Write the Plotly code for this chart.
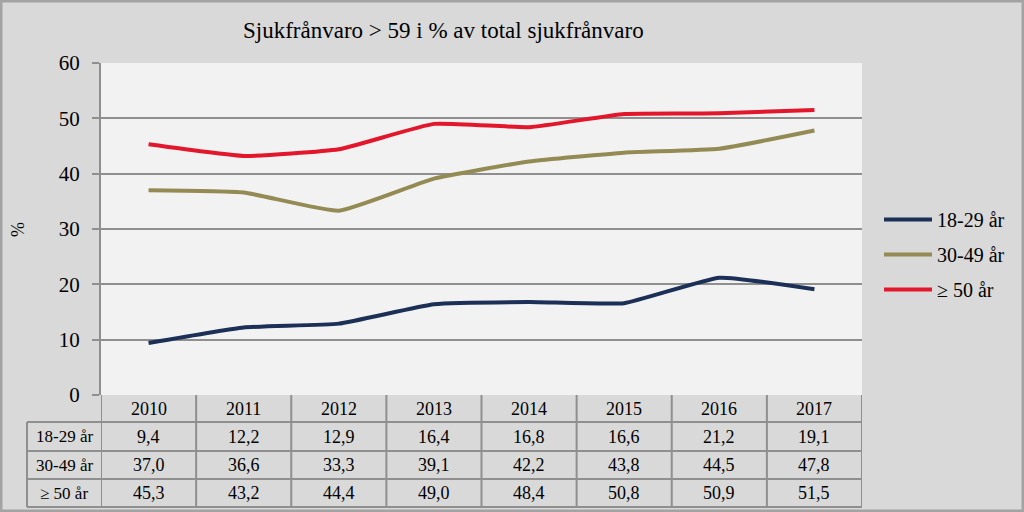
import plotly.graph_objects as go

years = ["2010", "2011", "2012", "2013", "2014", "2015", "2016", "2017"]
series_names = ["18-29 år", "30-49 år", "≥ 50 år"]
s_18_29 = [9.4, 12.2, 12.9, 16.4, 16.8, 16.6, 21.2, 19.1]
s_30_49 = [37.0, 36.6, 33.3, 39.1, 42.2, 43.8, 44.5, 47.8]
s_50 = [45.3, 43.2, 44.4, 49.0, 48.4, 50.8, 50.9, 51.5]
colors = ["#1b2f57", "#948a54", "#e3172b"]
y_ticks = [0, 10, 20, 30, 40, 50, 60]

all_series = [s_18_29, s_30_49, s_50]
FONT = "Liberation Serif, Times New Roman, serif"

W, H = 1024, 512
L, R, T, B = 101, 862, 63, 395
pw, ph = R - L, B - T


def py(p):
    return (B - p) / ph


def px(p):
    return (p - L) / pw


fig = go.Figure()
xs = list(range(len(years)))
for i, (name, vals) in enumerate(zip(series_names, all_series)):
    fig.add_trace(go.Scatter(
        x=xs, y=vals, mode="lines", name=name, legendgroup=name,
        line=dict(color=colors[i], width=4, shape="spline", smoothing=0.4),
        hoverinfo="skip",
    ))

gray = "#8f8f8f"
shapes = []
row_edges = [395, 422, 451, 479, 507]
for e in row_edges[1:]:
    shapes.append(dict(type="line", xref="paper", yref="paper",
                       x0=px(27), x1=1, y0=py(e), y1=py(e),
                       line=dict(color=gray, width=2)))
shapes.append(dict(type="line", xref="paper", yref="paper",
                   x0=px(27), x1=px(27), y0=py(422), y1=py(507),
                   line=dict(color=gray, width=2)))
for i in range(len(years) + 1):
    shapes.append(dict(type="line", xref="x", yref="paper",
                       x0=i - 0.5, x1=i - 0.5, y0=0, y1=py(507),
                       line=dict(color=gray, width=2)))
shapes.append(dict(type="rect", xref="paper", yref="paper",
                   x0=px(1), x1=px(1023), y0=py(1), y1=py(511),
                   line=dict(color="#a3a3a3", width=3)))

ann = []
ann.append(dict(text="Sjukfrånvaro > 59 i % av total sjukfrånvaro",
                xref="paper", yref="paper", x=px(443), y=py(31),
                xanchor="center", yanchor="middle",
                showarrow=False, font=dict(family=FONT, size=23, color="#000")))
ann.append(dict(text="%", xref="paper", yref="paper", x=px(18), y=py(230),
                xanchor="center", yanchor="middle",
                showarrow=False, textangle=-90,
                font=dict(family=FONT, size=18, color="#000")))
for i, yv in enumerate(years):
    ann.append(dict(text=yv, xref="x", yref="paper", x=i, y=py(408.5),
                    xanchor="center", yanchor="middle",
                    showarrow=False, font=dict(family=FONT, size=18, color="#000")))
row_centers = [436.5, 465, 493]
for r, (name, vals) in enumerate(zip(series_names, all_series)):
    ann.append(dict(text=name, xref="paper", yref="paper", x=px(64), y=py(row_centers[r]),
                    xanchor="center", yanchor="middle",
                    showarrow=False, font=dict(family=FONT, size=17, color="#000")))
    for i, v in enumerate(vals):
        ann.append(dict(text=f"{v:.1f}".replace(".", ","), xref="x", yref="paper",
                        x=i, y=py(row_centers[r]), showarrow=False,
                        xanchor="center", yanchor="middle",
                        font=dict(family=FONT, size=18, color="#000")))

fig.update_layout(
    width=W, height=H,
    margin=dict(l=L, r=W - R, t=T, b=H - B, pad=0),
    paper_bgcolor="#d9d9d9", plot_bgcolor="#f2f2f2",
    shapes=shapes, annotations=ann,
    showlegend=True,
    legend=dict(x=px(879), y=py(200), xanchor="left", yanchor="top",
                bgcolor="rgba(0,0,0,0)", font=dict(family=FONT, size=20, color="#000"),
                tracegroupgap=6, itemwidth=48),
    xaxis=dict(range=[-0.5, 7.5], showticklabels=False, showgrid=False,
               zeroline=False, ticks="", fixedrange=True),
    yaxis=dict(range=[0, 60], tickvals=y_ticks, showgrid=True, gridcolor="#8f8f8f",
               gridwidth=2, zeroline=False, showline=True, linecolor=gray, linewidth=2,
               ticks="outside", ticklen=7, tickcolor=gray, tickwidth=2,
               ticklabelstandoff=8,
               tickfont=dict(family=FONT, size=21, color="#000"), fixedrange=True),
)

fig.write_html("out.html", config={"displayModeBar": False},
               post_script="document.body.style.margin='0';document.body.style.padding='0';")
